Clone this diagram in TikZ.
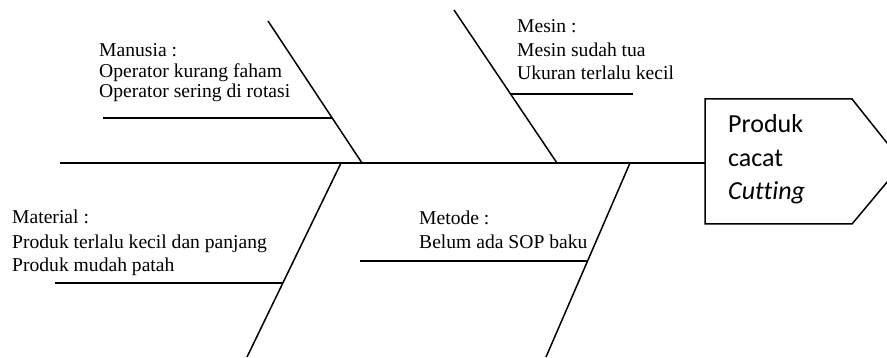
\documentclass[tikz,border=0pt]{standalone}
\usepackage{fontspec}
\setmainfont{Liberation Serif}
\newfontfamily\headfont[Ligatures=NoCommon]{Carlito}
\begin{document}
\begin{tikzpicture}[x=1pt,y=-1pt,
  bone/.style={draw, line width=1.5pt},
  lbl/.style={anchor=base west, inner sep=0pt, font=\fontsize{19.6}{21}\selectfont},
  headtxt/.style={anchor=base west, inner sep=0pt, font=\headfont\fontsize{26}{30}\selectfont}]
\useasboundingbox (0,0) rectangle (887,358);
\clip (0,0) rectangle (887,358);
% spine and head
\coordinate (tail) at (60,163);
\coordinate (hL) at (705,163);
\coordinate (h1) at (705,99);
\coordinate (h2) at (852,99);
\coordinate (h3) at (903,163);
\coordinate (h4) at (852,224);
\coordinate (h5) at (705,224);
\draw[bone] (h1) -- (h2) -- (h3) -- (h4) -- (h5) -- cycle;
\draw[bone] (tail) -- (hL);
\node[headtxt] (head1) at (728,133) {Produk};
\node[headtxt] (head2) at (728,167) {cacat};
\node[headtxt] (head3) at (728,200) {\itshape Cutting};
% Manusia
\coordinate (manT) at (268,21);
\coordinate (manB) at (362,163);
\coordinate (manS) at (103,118);
\coordinate (manJ) at (332,118);
\draw[bone] (manT) -- (manB);
\draw[bone] (manS) -- (manJ);
\node[lbl] (man1) at (99,57) {Manusia :};
\node[lbl] (man2) at (99,77.5) {Operator kurang faham};
\node[lbl] (man3) at (99,98) {Operator sering di rotasi};
% Mesin
\coordinate (mesT) at (454,10);
\coordinate (mesB) at (557,163);
\coordinate (mesJ) at (510.5,94);
\coordinate (mesE) at (633,94);
\draw[bone] (mesT) -- (mesB);
\draw[bone] (mesJ) -- (mesE);
\node[lbl] (mes1) at (517,33) {Mesin :};
\node[lbl] (mes2) at (517,56.5) {Mesin sudah tua};
\node[lbl] (mes3) at (517,80) {Ukuran terlalu kecil};
% Material
\coordinate (matT) at (341,163);
\coordinate (matB) at (247,357);
\coordinate (matS) at (55,283);
\coordinate (matJ) at (283,283);
\draw[bone] (matT) -- (matB);
\draw[bone] (matS) -- (matJ);
\node[lbl] (mat1) at (12,224) {Material :};
\node[lbl] (mat2) at (12,248.5) {Produk terlalu kecil dan panjang};
\node[lbl] (mat3) at (12,272) {Produk mudah patah};
% Metode
\coordinate (metT) at (630,163);
\coordinate (metB) at (546,357);
\coordinate (metS) at (360,261);
\coordinate (metJ) at (587.6,261);
\draw[bone] (metT) -- (metB);
\draw[bone] (metS) -- (metJ);
\node[lbl] (met1) at (419,225) {Metode :};
\node[lbl] (met2) at (419,249) {Belum ada SOP baku};
\end{tikzpicture}
\end{document}
